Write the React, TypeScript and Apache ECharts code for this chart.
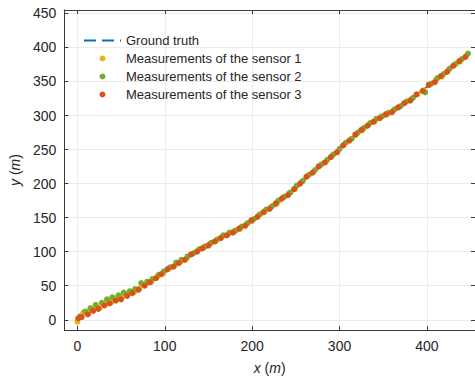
import React, { useEffect, useRef } from "react";
import * as echarts from "echarts";

const gtX = [0, 10, 20, 30, 40, 50, 60, 70, 80, 90, 100, 110, 120, 130, 140, 150, 160, 170, 180, 190, 200, 210, 220, 230, 240, 250, 260, 270, 280, 290, 300, 310, 320, 330, 340, 350, 360, 370, 380, 390, 400, 410, 420, 430, 440, 450];
const gtY = [0, 9, 16, 22, 28, 33, 39, 46, 53, 62, 71, 79, 86, 95, 103, 110, 117, 124, 130, 137, 146, 155, 164, 173, 183, 194, 207, 218, 228, 238, 250, 263, 273, 283, 292, 299, 306, 314, 322, 332, 342, 351, 361, 372, 382, 392];

const s1X = [0, 7, 13, 19, 26, 32, 39, 45, 52, 58, 65, 71, 78, 85, 91, 98, 105, 111, 118, 125, 131, 138, 145, 151, 158, 165, 172, 179, 186, 193, 200, 207, 214, 221, 228, 235, 242, 249, 256, 263, 270, 277, 284, 291, 298, 305, 312, 319, 326, 333, 340, 347, 354, 361, 368, 375, 382, 389, 396, 403, 410, 417, 424, 431, 438, 445];
const s1Y = [-3, 11, 12, 15, 18, 24, 26, 31, 34, 38, 41, 46, 52, 56, 63, 68, 76, 79, 85, 90, 96, 102, 106, 111, 115, 121, 125, 130, 133, 140, 145, 153, 158, 165, 170, 179, 186, 192, 202, 211, 217, 226, 231, 240, 247, 257, 264, 272, 278, 286, 291, 298, 301, 307, 312, 319, 324, 331, 337, 345, 352, 357, 366, 374, 379, 388];

const s2X = [3, 9, 15, 21, 28, 34, 40, 47, 53, 60, 66, 73, 80, 86, 93, 99, 106, 113, 119, 126, 133, 140, 146, 153, 160, 167, 174, 181, 188, 195, 202, 209, 216, 223, 230, 237, 244, 251, 258, 265, 272, 279, 286, 293, 300, 307, 314, 321, 328, 335, 342, 349, 356, 363, 370, 377, 384, 398, 405, 412, 419, 426, 433, 440, 447];
const s2Y = [5, 12, 17, 22, 25, 30, 33, 36, 40, 42, 45, 54, 56, 60, 66, 71, 77, 84, 88, 93, 98, 104, 108, 113, 118, 124, 128, 131, 137, 142, 148, 155, 162, 167, 175, 181, 187, 197, 204, 213, 220, 228, 235, 243, 251, 260, 266, 275, 282, 289, 295, 299, 304, 309, 314, 321, 326, 334, 347, 355, 361, 369, 376, 383, 391];

const s3X = [1, 5, 12, 18, 24, 31, 37, 44, 50, 57, 63, 70, 77, 83, 90, 96, 103, 110, 116, 123, 130, 137, 143, 150, 157, 164, 171, 178, 185, 192, 199, 206, 213, 220, 227, 234, 241, 248, 255, 262, 269, 276, 283, 290, 297, 304, 311, 318, 325, 332, 339, 346, 353, 360, 367, 374, 381, 388, 395, 402, 409, 416, 423, 430, 437, 444];
const s3Y = [2, 4, 8, 13, 16, 21, 24, 28, 30, 35, 39, 44, 50, 55, 61, 67, 74, 78, 83, 88, 96, 100, 105, 109, 115, 120, 124, 128, 134, 138, 146, 151, 158, 163, 171, 178, 183, 192, 200, 210, 216, 225, 231, 239, 246, 256, 263, 272, 279, 285, 291, 296, 302, 305, 312, 318, 322, 331, 336, 345, 349, 358, 364, 373, 380, 386];

const xTicks = [0, 100, 200, 300, 400];
const yTicks = [0, 50, 100, 150, 200, 250, 300, 350, 400, 450];
const seriesNames = ["Ground truth", "Measurements of the sensor 1", "Measurements of the sensor 2", "Measurements of the sensor 3"];

const FONT = "Liberation Sans, Arial, Helvetica, sans-serif";
const AX = "#3a3a3a";
const TXT = "#262626";

function pairs(xs: number[], ys: number[]) {
  return xs.map((x, i) => [x, ys[i]]);
}

export default function App() {
  const ref = useRef<HTMLDivElement>(null);
  useEffect(() => {
    if (!ref.current) return;
    const chart = echarts.init(ref.current, undefined, { renderer: "svg" });
    const baseAxis = (ticks: number[]) => ({
      type: "value" as const,
      min: -15,
      max: 455,
      axisLine: { show: true, onZero: false, lineStyle: { color: AX, width: 1 } },
      axisTick: { show: true, inside: true, length: 4, customValues: ticks, lineStyle: { color: AX, width: 1 } },
    });
    const dashIcon = "path://M0,0h12v2h-12z M18,0h12v2h-12z M36,0h1v2h-1z";
    chart.setOption({
      animation: false,
      backgroundColor: "#ffffff",
      grid: { left: 64, right: -2, top: 10, bottom: 51, containLabel: false },
      xAxis: [
        {
          ...baseAxis(xTicks),
          position: "bottom",
          axisLabel: { customValues: xTicks, margin: 9, fontSize: 14, color: TXT, fontFamily: FONT },
          splitLine: { show: true, lineStyle: { color: "#ebebeb", width: 1 } },
          name: "{i|x} ({i|m})",
          nameLocation: "middle",
          nameGap: 31,
          nameTextStyle: { fontSize: 14, color: TXT, fontFamily: FONT, rich: { i: { fontStyle: "italic", fontSize: 14, color: TXT, fontFamily: FONT } } },
        },
        {
          ...baseAxis(xTicks),
          position: "top",
          axisLabel: { show: false },
          splitLine: { show: false },
        },
      ],
      yAxis: [
        {
          ...baseAxis(yTicks),
          position: "left",
          axisLabel: { customValues: yTicks, margin: 8, fontSize: 14, color: TXT, fontFamily: FONT },
          splitLine: { show: true, lineStyle: { color: "#ebebeb", width: 1 } },
          name: "{i|y} ({i|m})",
          nameLocation: "middle",
          nameGap: 32,
          nameTextStyle: { fontSize: 14, color: TXT, fontFamily: FONT, rich: { i: { fontStyle: "italic", fontSize: 14, color: TXT, fontFamily: FONT } } },
        },
        {
          ...baseAxis(yTicks),
          position: "right",
          axisLabel: { show: false },
          splitLine: { show: false },
        },
      ],
      legend: {
        orient: "vertical",
        left: 84,
        top: 34,
        padding: 0,
        itemWidth: 37,
        itemHeight: 6,
        itemGap: 5,
        textStyle: { fontSize: 13, color: TXT, fontFamily: FONT, lineHeight: 13 },
        data: [
          { name: seriesNames[0], icon: dashIcon, itemStyle: { color: "#0072BD" } },
          { name: seriesNames[1], icon: "circle" },
          { name: seriesNames[2], icon: "circle" },
          { name: seriesNames[3], icon: "circle" },
        ],
      },
      series: [
        {
          name: seriesNames[0],
          type: "line",
          data: pairs(gtX, gtY),
          showSymbol: false,
          symbol: "none",
          smooth: true,
          lineStyle: { color: "#0072BD", width: 1.5, type: [6, 4] },
          itemStyle: { color: "#0072BD" },
          z: 1,
        },
        {
          name: seriesNames[1],
          type: "scatter",
          data: pairs(s1X, s1Y),
          symbolSize: 6,
          itemStyle: { color: "#EDB120", opacity: 1 },
          z: 2,
        },
        {
          name: seriesNames[2],
          type: "scatter",
          data: pairs(s2X, s2Y),
          symbolSize: 6,
          itemStyle: { color: "#77AC30", opacity: 1 },
          z: 3,
        },
        {
          name: seriesNames[3],
          type: "scatter",
          data: pairs(s3X, s3Y),
          symbolSize: 6,
          itemStyle: { color: "#D95319", opacity: 1 },
          z: 4,
        },
      ],
    });
    return () => chart.dispose();
  }, []);
  return <div ref={ref} style={{ width: 475, height: 381, position: "absolute", left: 0, top: 0 }} />;
}
